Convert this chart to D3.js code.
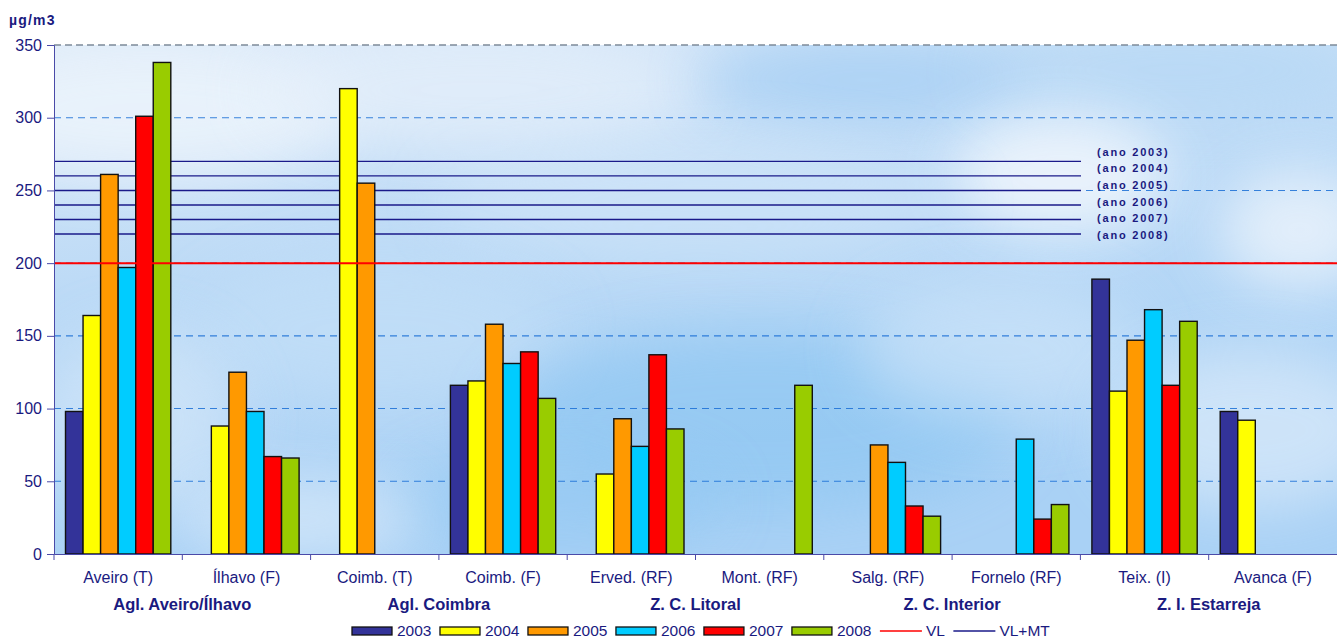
<!DOCTYPE html>
<html>
<head>
<meta charset="utf-8">
<script src="https://cdn.jsdelivr.net/npm/d3@7"></script>
<style>
  html, body { margin: 0; padding: 0; background: #ffffff; }
  svg { display: block; }
  text { font-family: "Liberation Sans", Arial, sans-serif; }
</style>
</head>
<body>
<svg id="chart" width="1337" height="641"></svg>
<script>
// ---- data ----
const categories = ["Aveiro (T)", "Ílhavo (F)", "Coimb. (T)", "Coimb. (F)", "Erved. (RF)",
                    "Mont. (RF)", "Salg. (RF)", "Fornelo (RF)", "Teix. (I)", "Avanca (F)"];
const groupNames = ["Agl. Aveiro/Ílhavo", "Agl. Coimbra", "Z. C. Litoral", "Z. C. Interior", "Z. I. Estarreja"];
const groupFirst = ["Aveiro (T)", "Coimb. (T)", "Erved. (RF)", "Salg. (RF)", "Teix. (I)"];
const groupLast  = ["Ílhavo (F)", "Coimb. (F)", "Mont. (RF)", "Fornelo (RF)", "Avanca (F)"];

const years = ["2003", "2004", "2005", "2006", "2007", "2008"];
const v2003 = [98, null, null, 116, null, null, null, null, 189, 98];
const v2004 = [164, 88, 320, 119, 55, null, null, null, 112, 92];
const v2005 = [261, 125, 255, 158, 93, null, 75, null, 147, null];
const v2006 = [197, 98, null, 131, 74, null, 63, 79, 168, null];
const v2007 = [301, 67, null, 139, 137, null, 33, 24, 116, null];
const v2008 = [338, 66, null, 107, 86, 116, 26, 34, 160, null];
const seriesValues = [v2003, v2004, v2005, v2006, v2007, v2008];
const seriesColors = ["#333399", "#ffff00", "#ff9900", "#00ccff", "#ff0000", "#99cc00"];

const limitVL = 200;                       // VL
const limitVLMT = [270, 260, 250, 240, 230, 220]; // VL+MT per year
const yTicks = [0, 50, 100, 150, 200, 250, 300, 350];
const yUnit = "µg/m3";

// ---- layout ----
const svg = d3.select("#chart");
const plot = { left: 54, right: 1337, top: 45, bottom: 554 };
const navy = "#1a1a80";
const axisColor = "#4a4aa8";

const x = d3.scaleBand().domain(categories).range([plot.left, plot.right]).paddingInner(0).paddingOuter(0);
const xs = d3.scaleBand().domain(years).range([11.5, x.bandwidth() - 11.5]).padding(0);
const y = d3.scaleLinear().domain([0, 350]).range([plot.bottom, plot.top]);

// ---- sky background of the plot area ----
const defs = svg.append("defs");
defs.append("clipPath").attr("id", "plotClip").append("rect")
  .attr("x", plot.left).attr("y", plot.top)
  .attr("width", plot.right - plot.left).attr("height", plot.bottom - plot.top);

const sky = defs.append("linearGradient").attr("id", "sky").attr("x1", 0).attr("y1", 0).attr("x2", 0.3).attr("y2", 1);
sky.append("stop").attr("offset", "0%").attr("stop-color", "#dbe9f8");
sky.append("stop").attr("offset", "45%").attr("stop-color", "#bcdaf6");
sky.append("stop").attr("offset", "100%").attr("stop-color", "#a9d1f5");

defs.append("filter").attr("id", "soft").attr("x", "-50%").attr("y", "-50%").attr("width", "200%").attr("height", "200%")
  .append("feGaussianBlur").attr("stdDeviation", 28);

const bg = svg.append("g").attr("clip-path", "url(#plotClip)");
bg.append("rect").attr("x", plot.left).attr("y", plot.top)
  .attr("width", plot.right - plot.left).attr("height", plot.bottom - plot.top)
  .attr("fill", "url(#sky)");

// cloud patches: [cx, cy, rx, ry, colour, opacity]
const patches = [
  [150, 110, 200, 70, "#eef5fc", 0.8],
  [480, 90, 220, 60, "#e6f0fb", 0.7],
  [870, 80, 170, 45, "#a6cff4", 0.8],
  [1180, 70, 200, 50, "#b4d7f5", 0.7],
  [1060, 175, 110, 60, "#f2f7fd", 0.85],
  [1300, 230, 80, 60, "#f4f8fd", 0.7],
  [700, 200, 260, 60, "#d6e8f9", 0.5],
  [380, 330, 180, 70, "#c4e0f8", 0.6],
  [760, 420, 260, 90, "#8dc6f2", 0.7],
  [1000, 350, 140, 70, "#cfe5f9", 0.6],
  [1250, 430, 140, 80, "#dcebfa", 0.7],
  [560, 500, 160, 50, "#92c8f3", 0.6],
  [140, 420, 100, 90, "#d8e9f9", 0.6],
  [300, 520, 120, 40, "#e3effb", 0.6]
];
bg.selectAll("ellipse").data(patches).join("ellipse")
  .attr("cx", d => d[0]).attr("cy", d => d[1])
  .attr("rx", d => d[2]).attr("ry", d => d[3])
  .attr("fill", d => d[4]).attr("opacity", d => d[5])
  .attr("filter", "url(#soft)");

// ---- gridlines ----
const grid = svg.append("g");
grid.selectAll("line.grid").data(yTicks.filter(t => t > 0 && t < 350)).join("line")
  .attr("class", "grid")
  .attr("x1", plot.left).attr("x2", plot.right)
  .attr("y1", d => y(d)).attr("y2", d => y(d))
  .attr("stroke", "#1a6fd6").attr("stroke-width", 1.1)
  .attr("stroke-dasharray", "7,5").attr("opacity", 0.85);
grid.append("line")
  .attr("x1", plot.left).attr("x2", plot.right)
  .attr("y1", y(350)).attr("y2", y(350))
  .attr("stroke", "#7d8a99").attr("stroke-width", 1.5).attr("stroke-dasharray", "7,4");

// ---- VL+MT lines ----
const lineEnd = 1081;
svg.append("g").selectAll("line").data(limitVLMT).join("line")
  .attr("x1", plot.left).attr("x2", lineEnd)
  .attr("y1", d => y(d)).attr("y2", d => y(d))
  .attr("stroke", "#1a1a8a").attr("stroke-width", 1.4);

// year labels for the VL+MT lines, stacked evenly beside the lines
const labelTop = y(limitVLMT[0]) - 9.5;
const labelBottom = y(limitVLMT[limitVLMT.length - 1]) + 1;
svg.append("g").selectAll("text").data(years).join("text")
  .attr("x", 1097)
  .attr("y", (d, i) => labelTop + i * (labelBottom - labelTop) / (years.length - 1))
  .attr("dy", "0.35em")
  .attr("font-size", 11).attr("font-weight", "bold")
  .attr("letter-spacing", 1.8)
  .attr("fill", navy)
  .text(d => `(ano ${d})`);

// ---- bars ----
const barData = [];
seriesValues.forEach((vals, si) => {
  vals.forEach((v, ci) => {
    if (v != null) barData.push({ cat: categories[ci], year: years[si], value: v, color: seriesColors[si] });
  });
});
svg.append("g").selectAll("rect").data(barData).join("rect")
  .attr("x", d => x(d.cat) + xs(d.year))
  .attr("y", d => y(d.value))
  .attr("width", xs.bandwidth())
  .attr("height", d => y(0) - y(d.value))
  .attr("fill", d => d.color)
  .attr("stroke", "#111").attr("stroke-width", 1.4);

// ---- VL line ----
svg.append("line")
  .attr("x1", plot.left).attr("x2", plot.right)
  .attr("y1", y(limitVL)).attr("y2", y(limitVL))
  .attr("stroke", "#ff0000").attr("stroke-width", 2);

// ---- axes ----
const yAxis = svg.append("g").attr("transform", `translate(${plot.left},0)`)
  .call(d3.axisLeft(y).tickValues(yTicks).tickSize(7).tickPadding(5));
yAxis.select(".domain").attr("stroke", axisColor);
yAxis.selectAll(".tick line").attr("stroke", axisColor);
yAxis.selectAll(".tick text").attr("fill", navy).attr("font-size", 16)
  .attr("font-family", "Liberation Sans, Arial, sans-serif");

const xAxis = svg.append("g").attr("transform", `translate(0,${plot.bottom})`)
  .call(d3.axisBottom(x).tickSize(0).tickPadding(18));
xAxis.select(".domain").attr("stroke", axisColor).attr("stroke-width", 1.2);
xAxis.selectAll(".tick text").attr("fill", navy).attr("font-size", 16)
  .attr("font-family", "Liberation Sans, Arial, sans-serif");
// tick marks at category boundaries
xAxis.append("g").selectAll("line").data(categories).join("line")
  .attr("x1", d => x(d)).attr("x2", d => x(d))
  .attr("y1", 0).attr("y2", 6)
  .attr("stroke", axisColor);

// group labels
svg.append("g").selectAll("text").data(groupNames).join("text")
  .attr("x", (d, i) => (x(groupFirst[i]) + x(groupLast[i]) + x.bandwidth()) / 2)
  .attr("y", 604).attr("dy", "0.35em")
  .attr("text-anchor", "middle")
  .attr("font-size", 16.5).attr("font-weight", "bold")
  .attr("fill", navy)
  .text(d => d);

// unit label
svg.append("text").attr("x", 9).attr("y", 20).attr("dy", "0.35em")
  .attr("font-size", 14).attr("font-weight", "bold").attr("letter-spacing", 1.2)
  .attr("fill", navy).text(yUnit);

// ---- legend ----
const legendItems = years.map((yr, i) => ({ label: yr, type: "box", color: seriesColors[i] }))
  .concat([{ label: "VL", type: "line", color: "#ff0000" },
           { label: "VL+MT", type: "line", color: "#1a1a8a" }]);
const legend = svg.append("g");
const legendY = 631;
let lx = 352;
legendItems.forEach(item => {
  const g = legend.append("g");
  if (item.type === "box") {
    g.append("rect").attr("x", lx).attr("y", legendY - 4).attr("width", 40).attr("height", 8)
      .attr("fill", item.color).attr("stroke", "#111").attr("stroke-width", 1.3);
    lx += 45;
  } else {
    g.append("line").attr("x1", lx).attr("x2", lx + 42).attr("y1", legendY).attr("y2", legendY)
      .attr("stroke", item.color).attr("stroke-width", 1.4);
    lx += 46;
  }
  const t = g.append("text").attr("x", lx).attr("y", legendY).attr("dy", "0.35em")
    .attr("font-size", 15.5).attr("fill", navy).text(item.label);
  lx += t.node().getComputedTextLength() + 8.5;
});
</script>
</body>
</html>
